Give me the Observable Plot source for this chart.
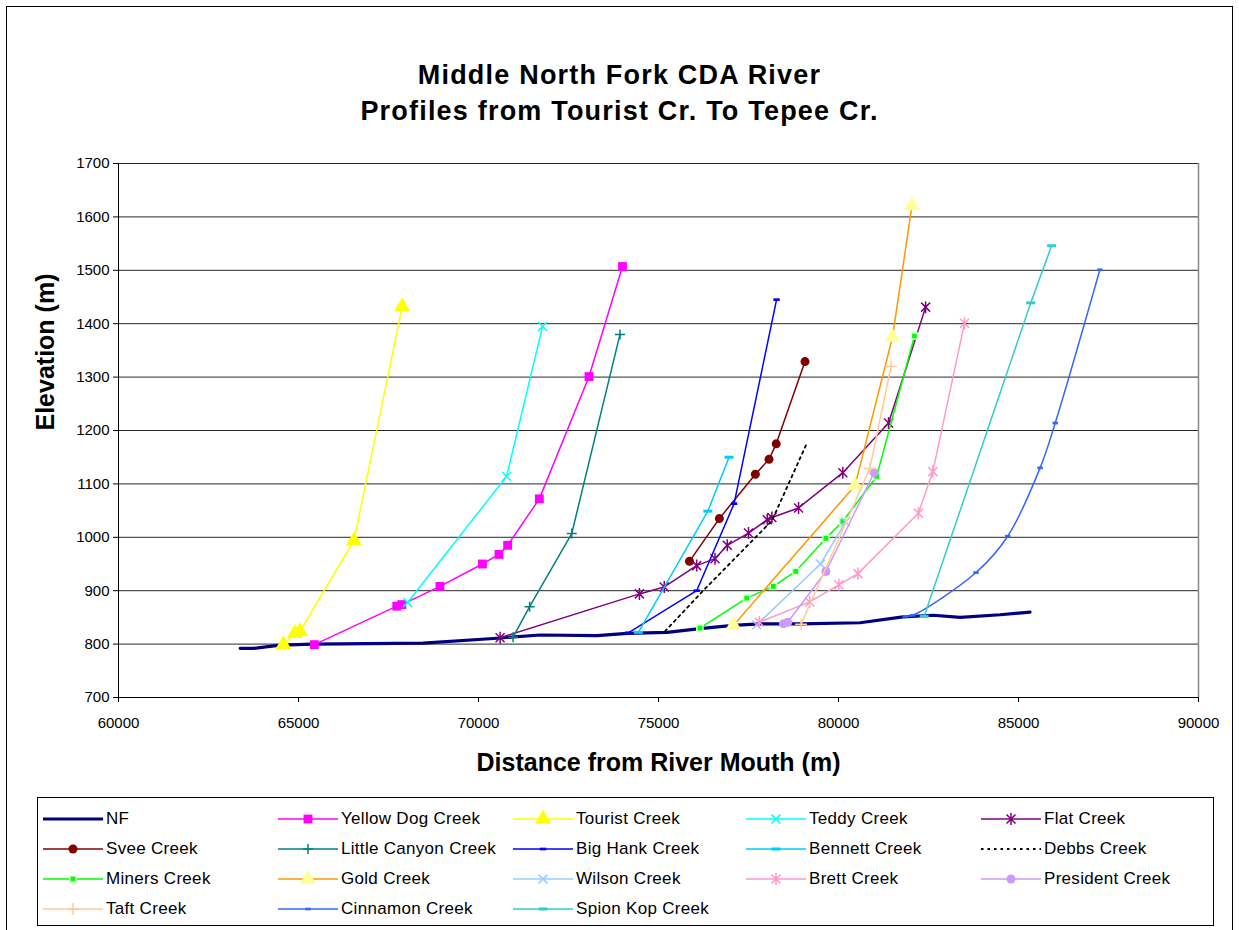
<!DOCTYPE html>
<html><head><meta charset="utf-8">
<script src="https://cdn.jsdelivr.net/npm/d3@7"></script>
<script src="https://cdn.jsdelivr.net/npm/@observablehq/plot@0.6"></script>
<style>
body{margin:0;background:#fff;font-family:"Liberation Sans",Arial,sans-serif;color:#000;}
#page{position:relative;width:1239px;height:930px;overflow:hidden;}
#border{position:absolute;left:6px;top:6px;width:1225px;height:960px;border:1px solid #000;}
#title{position:absolute;left:0;width:1239px;top:57px;text-align:center;font-weight:bold;font-size:27px;line-height:36px;letter-spacing:1.2px;}
#chart{position:absolute;left:0;top:145px;}
#legend{position:absolute;left:37px;top:797px;width:1175px;height:127px;border:1px solid #000;}
.item{position:absolute;height:20px;font-size:17px;display:flex;align-items:center;white-space:nowrap;letter-spacing:0.3px;}
.item svg{margin-right:1px;}
</style></head><body>
<div id="page">
<div id="border"></div>
<div id="title">Middle North Fork CDA River<br>Profiles from Tourist Cr. To Tepee Cr.</div>
<div id="chart"></div>
<div id="legend"></div>
</div>
<script>
// ---- data (distance m, elevation m) ----
const nf = [[63380,792],[63740,792],[64490,798],[65400,800],[68460,802],[70520,811],[71710,817],[73290,816],[74130,820],[75240,822],[76150,829],[77070,835],[77820,838],[78930,838],[80600,840],[81790,851],[82630,854],[83380,850],[84490,855],[85320,860]];
const yellowDog = [[65440,799],[67730,871],[67870,874],[68930,908],[70110,950],[70570,968],[70810,985],[71690,1072],[73070,1301],[74000,1507]];
const tourist = [[64580,799],[64900,820],[65040,824],[66540,994],[67880,1432]];
const teddy = [[68030,878],[70780,1114],[71780,1395]];
const flat = [[70600,812],[74470,894],[75160,907],[76060,947],[76570,960],[76910,985],[77500,1008],[78020,1033],[78150,1037],[78890,1055],[80120,1121],[81390,1214],[82420,1431]];
const svee = [[75860,955],[76690,1035],[77690,1118],[78070,1146],[78270,1175],[79070,1329]];
const littleCanyon = [[70960,813],[71420,870],[72590,1007],[73930,1380]];
const bigHank = [[74160,821],[76060,900],[77100,1063],[78280,1445]];
const bennett = [[74440,822],[76370,1049],[76960,1150]];
const debbs = [[75180,824],[76240,900],[78150,1031],[79120,1176]];
const miners = [[76150,830],[77450,886],[78190,908],[78810,936],[79650,998],[80120,1030],[81060,1114],[82110,1377]];
const gold = [[77080,835],[80460,1097],[81500,1375],[82040,1621]];
const wilson = [[77730,836],[79500,950],[80200,1029]];
const brett = [[77800,841],[79200,879],[80010,911],[80540,932],[82220,1045],[82620,1123],[83500,1401]];
const president = [[78470,838],[78590,841],[79650,936],[80990,1121]];
const taft = [[78960,837],[80870,1129],[81460,1320]];
const cinnamon = [[81850,852],[82060,854],[83820,934],[84700,1002],[85600,1130],[86020,1214],[87260,1501]];
const spionKop = [[82380,852],[85340,1439],[85920,1546]];

const xTicks = [60000,65000,70000,75000,80000,85000,90000];
const yTicks = [700,800,900,1000,1100,1200,1300,1400,1500,1600,1700];
const seriesNames = ["NF","Yellow Dog Creek","Tourist Creek","Teddy Creek","Flat Creek","Svee Creek","Little Canyon Creek","Big Hank Creek","Bennett Creek","Debbs Creek","Miners Creek","Gold Creek","Wilson Creek","Brett Creek","President Creek","Taft Creek","Cinnamon Creek","Spion Kop Creek"];
const seriesData = [nf,yellowDog,tourist,teddy,flat,svee,littleCanyon,bigHank,bennett,debbs,miners,gold,wilson,brett,president,taft,cinnamon,spionKop];

// ---- custom symbols ----
function dash(wf,hf){return {draw(ctx,size){const r=Math.sqrt(size/Math.PI);ctx.rect(-r*wf,-r*hf,2*r*wf,2*r*hf);}};}
const star6 = {draw(ctx,size){const r=Math.sqrt(size/Math.PI);const d=r*0.75;
  ctx.moveTo(0,-r);ctx.lineTo(0,r);ctx.moveTo(-d,-d);ctx.lineTo(d,d);ctx.moveTo(-d,d);ctx.lineTo(d,-d);}};
const xMark = {draw(ctx,size){const r=Math.sqrt(size/Math.PI);const d=r*0.8;
  ctx.moveTo(-d,-d);ctx.lineTo(d,d);ctx.moveTo(-d,d);ctx.lineTo(d,-d);}};
const plusMark = {draw(ctx,size){const r=Math.sqrt(size/Math.PI);
  ctx.moveTo(0,-r);ctx.lineTo(0,r);ctx.moveTo(-r,0);ctx.lineTo(r,0);}};

// ---- styles ----
const styles = [
 {stroke:"#000080", w:3.2},
 {stroke:"#FF00FF", w:1.5, sym:d3.symbolSquare, r:5, fill:"#FF00FF"},
 {stroke:"#FFFF00", w:1.5, sym:d3.symbolTriangle, r:6, fill:"#FFFF00"},
 {stroke:"#00FFFF", w:1.5, sym:xMark, r:5.5, mstroke:"#00FFFF"},
 {stroke:"#800080", w:1.5, sym:star6, r:6, mstroke:"#800080"},
 {stroke:"#800000", w:1.5, sym:d3.symbolCircle, r:4.5, fill:"#800000"},
 {stroke:"#008080", w:1.5, sym:plusMark, r:5, mstroke:"#008080"},
 {stroke:"#0000FF", w:1.5, sym:dash(0.7,0.3), r:4.5, fill:"#0000FF"},
 {stroke:"#00CCFF", w:1.5, sym:dash(0.9,0.3), r:5, fill:"#00CCFF"},
 {stroke:"#000000", w:1.8, dash:"2.5,4"},
 {stroke:"#00FF00", w:1.5, sym:d3.symbolSquare, r:3.5, fill:"#00FF00", mstroke:"#CCFFCC"},
 {stroke:"#FF9900", w:1.5, sym:d3.symbolTriangle, r:6, fill:"#FFFF99"},
 {stroke:"#99CCFF", w:1.5, sym:xMark, r:5.5, mstroke:"#99CCFF"},
 {stroke:"#FF99CC", w:1.5, sym:star6, r:6, mstroke:"#FF99CC"},
 {stroke:"#CC99FF", w:1.5, sym:d3.symbolCircle, r:4.5, fill:"#CC99FF"},
 {stroke:"#FFCC99", w:1.5, sym:plusMark, r:6, mstroke:"#FFCC99"},
 {stroke:"#3366FF", w:1.5, sym:dash(0.6,0.3), r:4.5, fill:"#3366FF", curve:"catmull-rom"},
 {stroke:"#33CCCC", w:1.5, sym:dash(0.9,0.3), r:5, fill:"#33CCCC"}
];

const marks = [];
marks.push(Plot.gridY({ticks:yTicks, stroke:"#000", strokeOpacity:0.85, strokeWidth:1}));
marks.push(Plot.ruleX([90000],{stroke:"#888", strokeWidth:1.5}));
seriesData.forEach((data,i)=>{
  const s = styles[i];
  marks.push(Plot.line(data,{x:d=>d[0], y:d=>d[1], stroke:s.stroke, strokeWidth:s.w, strokeDasharray:s.dash, curve:s.curve||"linear"}));
  if (s.sym) marks.push(Plot.dot(data,{x:d=>d[0], y:d=>d[1], symbol:s.sym, r:s.r, fill:s.fill||"none", stroke:s.mstroke||"none", strokeWidth:s.mstroke?1.5:0}));
});
marks.push(Plot.ruleY([700],{stroke:"#000"}));
marks.push(Plot.ruleX([60000],{stroke:"#000"}));
marks.push(Plot.axisX({ticks:xTicks, tickFormat:d3.format("d"), tickSize:5, tickPadding:15, label:null, fontSize:15}));
marks.push(Plot.axisY({ticks:yTicks, tickFormat:d3.format("d"), tickSize:5, tickPadding:4, label:null, fontSize:15}));
marks.push(Plot.text(["Distance from River Mouth (m)"],{text:d=>d, frameAnchor:"bottom", dy:73, fontSize:25, fontWeight:"bold", letterSpacing:"1.2px"}));
marks.push(Plot.text(["Elevation (m)"],{text:d=>d, frameAnchor:"left", dx:-73, rotate:-90, fontSize:25, fontWeight:"bold", letterSpacing:"0.5px"}));

const chart = Plot.plot({
  width:1239, height:642, marginTop:18, marginBottom:90, marginLeft:118, marginRight:41,
  x:{domain:[60000,90000]}, y:{domain:[700,1700]},
  style:{fontFamily:"'Liberation Sans', Arial, sans-serif", color:"#000", background:"transparent", overflow:"visible"},
  marks
});
document.getElementById("chart").appendChild(chart);

// ---- legend ----
const legend = document.getElementById("legend");
const colX = [5,240,475,708,943], rowY = [21,51,81,111];
seriesNames.forEach((name,i)=>{
  const s = styles[i];
  const col = i%5, row = Math.floor(i/5);
  const div = document.createElement("div");
  div.className = "item";
  div.style.left = colX[col]+"px";
  div.style.top = (rowY[row]-10)+"px";
  let svg = `<svg width="62" height="20"><line x1="0" x2="60" y1="10" y2="10" stroke="${s.stroke}" stroke-width="${s.w}" ${s.dash?`stroke-dasharray="${s.dash}"`:""}/>`;
  if (s.sym) {
    const p = d3.symbol(s.sym, Math.PI*s.r*s.r)();
    svg += `<path transform="translate(30,10)" d="${p}" fill="${s.fill||"none"}" stroke="${s.mstroke||"none"}" stroke-width="${s.mstroke?1.5:0}"/>`;
  }
  svg += `</svg>`;
  div.innerHTML = svg + `<span>${name}</span>`;
  legend.appendChild(div);
});
</script>
</body></html>
